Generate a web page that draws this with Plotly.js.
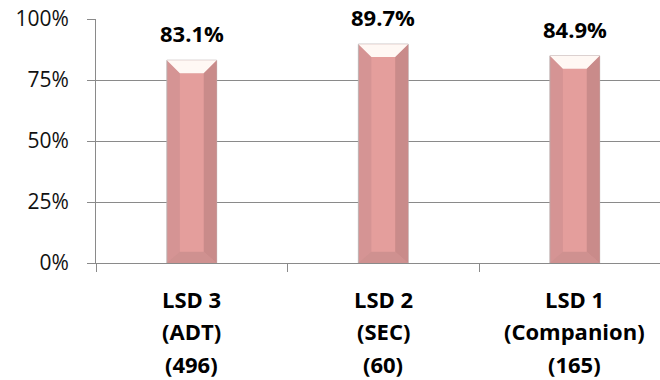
<!DOCTYPE html>
<html>
<head>
<meta charset="utf-8">
<script src="https://cdn.plot.ly/plotly-3.0.1.min.js"></script>
<style>
html,body{margin:0;padding:0;background:#fff;}
#chart{width:660px;height:380px;}
</style>
</head>
<body>
<div id="chart"></div>
<script>
// ---- data ----
const categories = ['LSD 3', 'LSD 2', 'LSD 1'];
const subLabels = ['(ADT)', '(SEC)', '(Companion)'];
const counts = ['(496)', '(60)', '(165)'];
const values = [83.1, 89.7, 84.9];
const valueLabels = ['83.1%', '89.7%', '84.9%'];
const yTicks = [0, 25, 50, 75, 100];
const yTickText = ['0%', '25%', '50%', '75%', '100%'];

// ---- style ----
const FONT = '"Open Sans", "Liberation Sans", sans-serif';
const GRID = '#8a8a8a';
const BAR_W = 0.26, HALF = BAR_W / 2, DX = 0.068, DY_T = 5.3, DY_B = 4.6;
const COL_LEFT = '#d59494', COL_MID = '#e49e9c', COL_RIGHT = '#c98b8a',
      COL_TOP = '#fff8f4', COL_BOT = '#cf9190';

const xs = categories.map((c, i) => i);

function polys(fn) {
  const X = [], Y = [];
  xs.forEach((xi, i) => {
    const pts = fn(xi, values[i]);
    pts.forEach(p => { X.push(p[0]); Y.push(p[1]); });
    X.push(null); Y.push(null);
  });
  return {X, Y};
}
function faceTrace(fn, color) {
  const p = polys(fn);
  return {type: 'scatter', mode: 'lines', x: p.X, y: p.Y, fill: 'toself',
    fillcolor: color, line: {width: 0, color: color}, hoverinfo: 'skip', showlegend: false};
}

const traces = [
  {type: 'bar', x: xs, y: values, width: BAR_W,
   marker: {color: COL_LEFT, line: {color: 'rgba(185,175,175,0.9)', width: 1}},
   hovertext: categories, showlegend: false},
  faceTrace((x, v) => [[x + HALF - DX, v - DY_T], [x + HALF, v], [x + HALF, 0], [x + HALF - DX, DY_B]], COL_RIGHT),
  faceTrace((x, v) => [[x - HALF, 0], [x + HALF, 0], [x + HALF - DX, DY_B], [x - HALF + DX, DY_B]], COL_BOT),
  faceTrace((x, v) => [[x - HALF + DX, DY_B], [x + HALF - DX, DY_B], [x + HALF - DX, v - DY_T], [x - HALF + DX, v - DY_T]], COL_MID),
  faceTrace((x, v) => [[x - HALF, v], [x + HALF, v], [x + HALF - DX, v - DY_T], [x - HALF + DX, v - DY_T]], COL_TOP)
];

const annotations = [];
xs.forEach((xi, i) => {
  annotations.push({x: xi, y: values[i], xref: 'x', yref: 'y', text: '<b>' + valueLabels[i] + '</b>',
    showarrow: false, yanchor: 'bottom', yshift: 10, font: {family: FONT, size: 22, color: '#000'}});
  [categories[i], subLabels[i], counts[i]].forEach((t, k) => {
    annotations.push({x: xi, y: 0, xref: 'x', yref: 'paper', text: '<b>' + t + '</b>',
      showarrow: false, yanchor: 'middle', yshift: -35.5 - 32.5 * k,
      font: {family: FONT, size: 22, color: '#000'}});
  });
});

const layout = {
  width: 660, height: 380,
  margin: {l: 96, r: 0, t: 19, b: 117, pad: 0},
  paper_bgcolor: '#fff', plot_bgcolor: '#fff',
  font: {family: FONT, color: '#000'},
  showlegend: false,
  barmode: 'overlay',
  xaxis: {type: 'linear', range: [-0.5, 2.445], showgrid: false, zeroline: false,
    tickmode: 'array', tickvals: [-0.5, 0.5, 1.5, 2.5], ticktext: ['', '', '', ''],
    ticks: 'outside', ticklen: 8, tickcolor: GRID, tickwidth: 1,
    showline: true, linecolor: GRID, linewidth: 1, fixedrange: true},
  yaxis: {range: [0, 100], tickmode: 'array', tickvals: yTicks, ticktext: yTickText,
    showgrid: true, gridcolor: GRID, gridwidth: 1, zeroline: false,
    ticks: 'outside', ticklen: 8, tickcolor: GRID, tickwidth: 1,
    ticklabelstandoff: 14,
    showline: true, linecolor: GRID, linewidth: 1,
    tickfont: {family: FONT, size: 21, color: '#111'}, fixedrange: true},
  annotations: annotations
};

Plotly.newPlot('chart', traces, layout, {displayModeBar: false, staticPlot: true});
</script>
</body>
</html>
